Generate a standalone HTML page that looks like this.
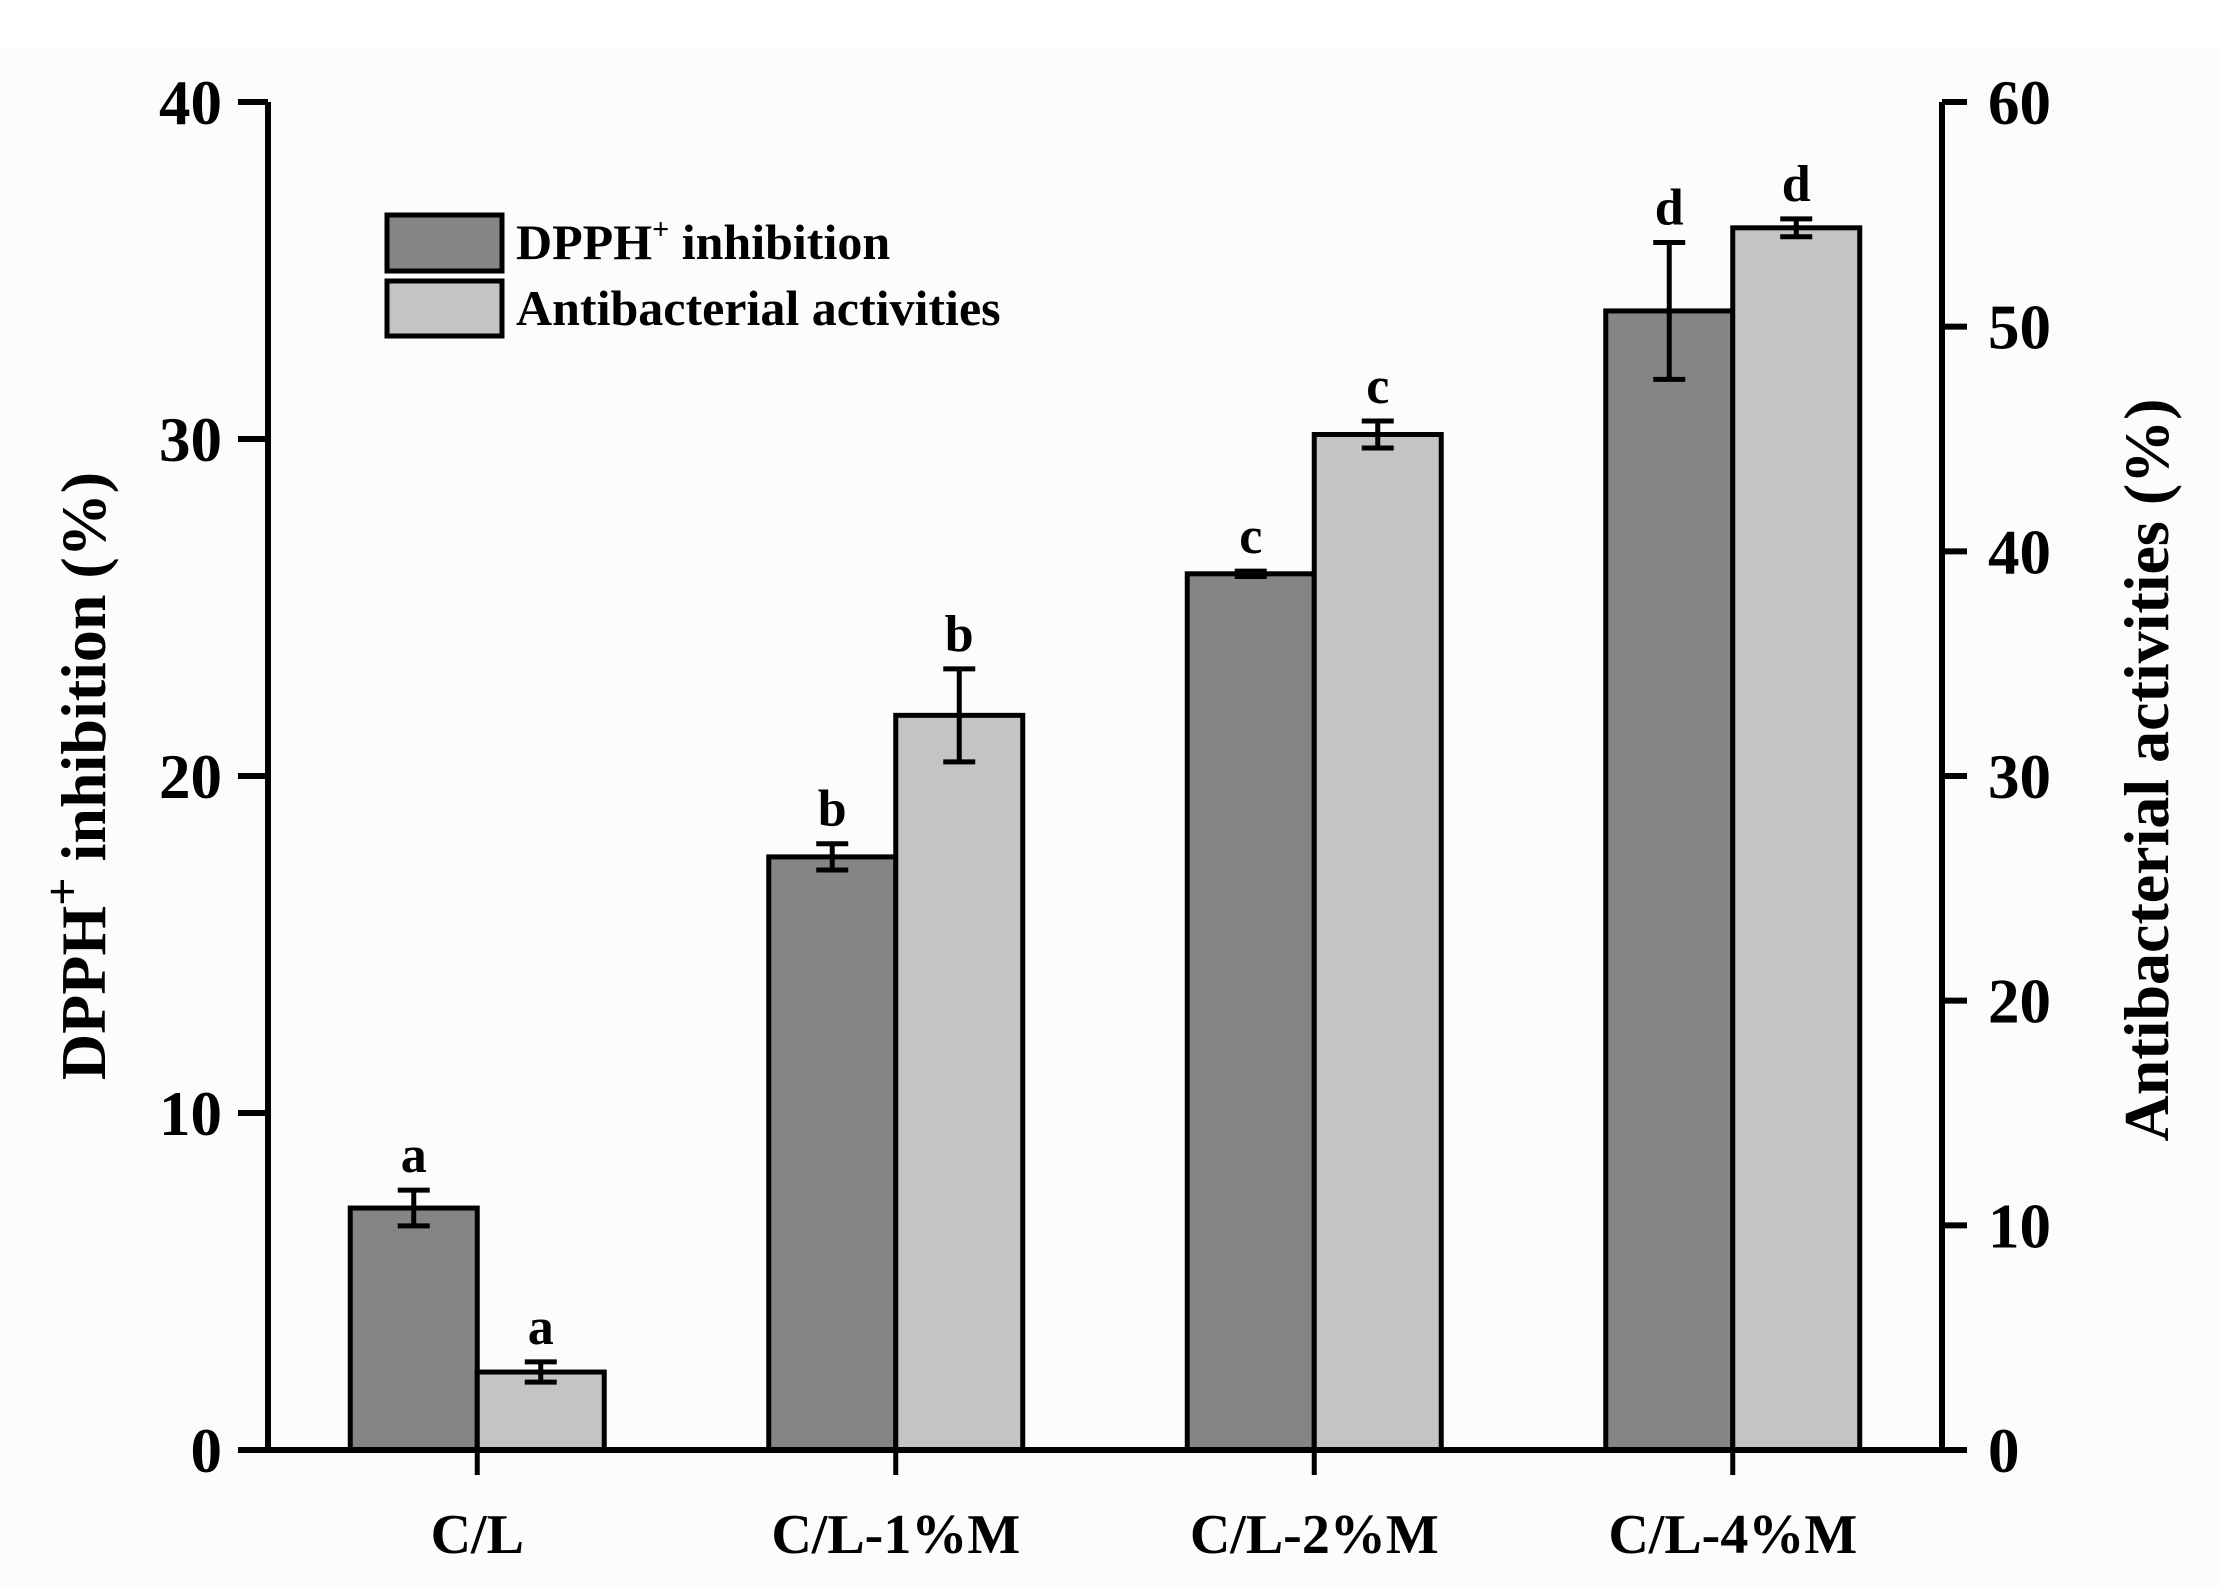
<!DOCTYPE html>
<html><head><meta charset="utf-8"><style>
html,body{margin:0;padding:0;background:#fff;}
svg{display:block;font-family:"Liberation Serif",serif;font-weight:bold;}
</style></head><body>
<svg id="chart" width="2225" height="1590" viewBox="0 0 2225 1590" xmlns="http://www.w3.org/2000/svg">
<rect x="0" y="48" width="2222" height="1542" fill="#fcfcfc"/>
<g id="bars"></g>
<g id="axes"></g>
<g>
<rect x="387" y="215" width="115" height="56" fill="#858585" stroke="#000" stroke-width="5"/>
<rect x="387" y="281" width="115" height="55" fill="#c4c4c4" stroke="#000" stroke-width="5"/>
<text x="516" y="259" font-size="50">DPPH<tspan font-size="30" dy="-20">+</tspan><tspan dy="20"> inhibition</tspan></text>
<text x="516" y="325" font-size="50">Antibacterial activities</text>
</g>
<text transform="translate(105,776) rotate(-90)" text-anchor="middle" font-size="64">DPPH<tspan font-size="50" dy="-26">+</tspan><tspan dy="26"> inhibition (%)</tspan></text>
<text transform="translate(2168,770) rotate(-90)" text-anchor="middle" font-size="64">Antibacterial activities (%)</text>
</svg>
<script>
const categories = ["C/L", "C/L-1%M", "C/L-2%M", "C/L-4%M"];
const dpphValues = [7.18, 17.6, 26.0, 33.8];
const dpphErrors = [0.53, 0.39, 0.08, 2.03];
const dpphLetters = ["a", "b", "c", "d"];
const antiValues = [3.47, 32.7, 45.2, 54.4];
const antiErrors = [0.45, 2.07, 0.6, 0.4];
const antiLetters = ["a", "b", "c", "d"];
const leftTicks = [0, 10, 20, 30, 40];
const rightTicks = [0, 10, 20, 30, 40, 50, 60];

const NS = "http://www.w3.org/2000/svg";
const X0 = 268, X1 = 1942, Y0 = 1450, Y1 = 102;
const band = (X1 - X0) / categories.length;
const barW = 127;
function xCenter(i){ return X0 + band * (i + 0.5); }
function yLeft(v){ return Y0 - (v / 40) * (Y0 - Y1); }
function yRight(v){ return Y0 - (v / 60) * (Y0 - Y1); }
function mk(tag, attrs, parent){
  const e = document.createElementNS(NS, tag);
  for (const k in attrs) e.setAttribute(k, attrs[k]);
  parent.appendChild(e);
  return e;
}
const bars = document.getElementById("bars");
const axes = document.getElementById("axes");

function drawSeries(vals, errs, letters, yf, offset, fill, name){
  vals.forEach((v, i) => {
    const xl = xCenter(i) + offset;
    const yt = yf(v);
    const r = mk("rect", {x: xl, y: yt, width: barW, height: Y0 - yt, fill: fill, stroke: "#000", "stroke-width": 5}, bars);
    
    
    const cx = xl + barW / 2;
    const ye1 = yf(v + errs[i]), ye2 = yf(v - errs[i]);
    const eb = mk("path", {d: `M${cx},${ye1}V${ye2}M${cx-16},${ye1}H${cx+16}M${cx-16},${ye2}H${cx+16}`, stroke: "#000", "stroke-width": 5, fill: "none"}, bars);
    
    
    const t = mk("text", {x: cx, y: ye1 - 18, "text-anchor": "middle", "font-size": 52}, bars);
    t.textContent = letters[i];
    
    
  });
}
drawSeries(dpphValues, dpphErrors, dpphLetters, yLeft, -barW, "#858585", "dpph");
drawSeries(antiValues, antiErrors, antiLetters, yRight, 0, "#c4c4c4", "antibacterial");

const la = mk("path", {d: `M${X0},${Y1}V${Y0}`, stroke: "#000", "stroke-width": 6}, axes);


const ra = mk("path", {d: `M${X1},${Y1}V${Y0}`, stroke: "#000", "stroke-width": 6}, axes);


const xa = mk("path", {d: `M${X0-30},${Y0}H${X1+25}`, stroke: "#000", "stroke-width": 6}, axes);



leftTicks.forEach(v => {
  const y = yLeft(v);
  const tk = mk("path", {d: `M${X0-30},${y}H${X0}`, stroke: "#000", "stroke-width": 6}, axes);
  
  
  const t = mk("text", {x: X0 - 46, y: y + 22, "text-anchor": "end", "font-size": 63}, axes);
  t.textContent = v;
  
  
});
rightTicks.forEach(v => {
  const y = yRight(v);
  const tk = mk("path", {d: `M${X1},${y}H${X1+25}`, stroke: "#000", "stroke-width": 6}, axes);
  
  
  const t = mk("text", {x: X1 + 46, y: y + 22, "text-anchor": "start", "font-size": 63}, axes);
  t.textContent = v;
  
  
});
categories.forEach((c, i) => {
  const x = xCenter(i);
  const tk = mk("path", {d: `M${x},${Y0}V${Y0+25}`, stroke: "#000", "stroke-width": 5}, axes);
  
  
  const t = mk("text", {x: x, y: 1553, "text-anchor": "middle", "font-size": 56}, axes);
  t.textContent = c;
  
  
});
</script>
</body></html>
